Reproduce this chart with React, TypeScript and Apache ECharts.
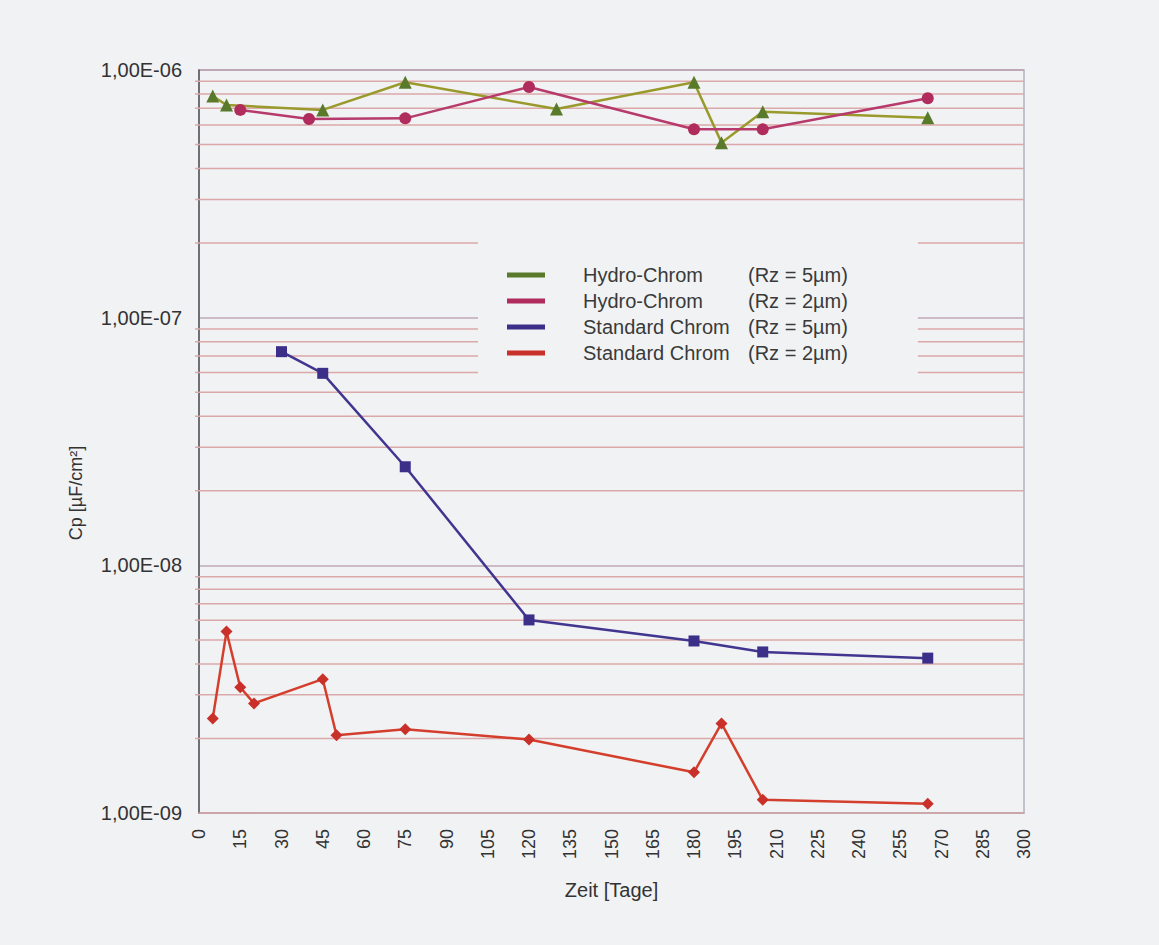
import React, { useEffect, useRef } from "react";
import * as echarts from "echarts";

// Days (Zeit [Tage]) and Cp values [µF/cm²]
const hydro5Days = [5, 10, 45, 75, 130, 180, 190, 205, 265];
const hydro5Cp = [7.85e-7, 7.22e-7, 6.9e-7, 8.92e-7, 6.96e-7, 8.92e-7, 5.09e-7, 6.79e-7, 6.42e-7];

const hydro2Days = [15, 40, 75, 120, 180, 205, 265];
const hydro2Cp = [6.9e-7, 6.34e-7, 6.38e-7, 8.54e-7, 5.76e-7, 5.76e-7, 7.69e-7];

const std5Days = [30, 45, 75, 120, 180, 205, 265];
const std5Cp = [7.29e-8, 5.96e-8, 2.5e-8, 6.02e-9, 4.95e-9, 4.47e-9, 4.22e-9];

const std2Days = [5, 10, 15, 20, 45, 50, 75, 120, 180, 190, 205, 265];
const std2Cp = [2.41e-9, 5.4e-9, 3.22e-9, 2.77e-9, 3.47e-9, 2.06e-9, 2.18e-9, 1.98e-9, 1.46e-9, 2.3e-9, 1.13e-9, 1.09e-9];

const seriesNames = [
  "Hydro-Chrom (Rz = 5µm)",
  "Hydro-Chrom (Rz = 2µm)",
  "Standard Chrom (Rz = 5µm)",
  "Standard Chrom (Rz = 2µm)",
];

const decadeStarts = [1e-9, 1e-8, 1e-7];
const minorMultipliers = [2, 3, 4, 5, 6, 7, 8, 9];
const xMin = 0;
const xMax = 300;

const BG = "#f1f2f4";
const FONT = "'Liberation Sans', Arial, sans-serif";

function pairs(xs: number[], ys: number[]) {
  return xs.map((x, i) => [x, ys[i]]);
}

export default function App() {
  const ref = useRef<HTMLDivElement>(null);
  useEffect(() => {
    if (!ref.current) return;
    const chart = echarts.init(ref.current, undefined, { renderer: "svg" });
    const minorData: number[][] = [];
    decadeStarts.forEach((d) =>
      minorMultipliers.forEach((m) => minorData.push([xMin, d * m, xMax]))
    );
    const lineSeries = (
      name: string,
      data: number[][],
      color: string,
      markerColor: string,
      symbol: string,
      symbolSize: number
    ) => ({
      name,
      type: "line",
      data,
      symbol,
      symbolSize,
      showSymbol: true,
      lineStyle: { color, width: 2.5 },
      itemStyle: { color: markerColor },
      z: 3,
    });
    chart.setOption({
      animation: false,
      backgroundColor: BG,
      textStyle: { fontFamily: FONT },
      grid: { left: 199, right: 135, top: 70, bottom: 132, show: true, borderColor: "#b4b2bc", borderWidth: 1.5, backgroundColor: "transparent" },
      legend: {
        orient: "vertical",
        left: 478,
        top: 228,
        z: 10,
        backgroundColor: BG,
        padding: [37, 70, 17, 29],
        itemWidth: 38,
        itemHeight: 5,
        itemGap: 6,
        icon: "rect",
        data: seriesNames,
        formatter: (name: string) => {
          const idx = name.indexOf(" (");
          return `{s|}{a|${name.slice(0, idx)}}{b|${name.slice(idx + 1)}}`;
        },
        textStyle: {
          fontSize: 20,
          color: "#3a3a3a",
          fontFamily: FONT,
          lineHeight: 20,
          rich: {
            s: { width: 33 },
            a: { width: 165, fontSize: 20, color: "#3a3a3a", fontFamily: FONT },
            b: { fontSize: 20, color: "#3a3a3a", fontFamily: FONT },
          },
        },
      },
      xAxis: {
        type: "value",
        min: xMin,
        max: xMax,
        interval: 15,
        name: "Zeit [Tage]",
        nameLocation: "middle",
        nameGap: 67,
        nameTextStyle: { fontSize: 20, color: "#333", fontFamily: FONT },
        axisLine: { show: true, lineStyle: { color: "#cfa3a6", width: 1.5 } },
        axisTick: { show: false },
        splitLine: { show: false },
        axisLabel: { rotate: 90, fontSize: 18, color: "#333", margin: 16, fontFamily: FONT },
      },
      yAxis: {
        type: "log",
        logBase: 10,
        min: 1e-9,
        max: 1e-6,
        axisLine: { show: true, lineStyle: { color: "#55535a", width: 1.5 } },
        axisTick: { show: false },
        splitLine: { show: true, lineStyle: { color: "#bfa7b4", width: 1.5 } },
        axisLabel: {
          fontSize: 20,
          color: "#333",
          margin: 17,
          fontFamily: FONT,
          formatter: (v: number) => {
            const e = Math.round(Math.log10(v));
            return `1,00E-${String(-e).padStart(2, "0")}`;
          },
        },
      },
      graphic: [
        {
          type: "text",
          x: 76,
          y: 493,
          rotation: Math.PI / 2,
          style: {
            text: "Cp [µF/cm²]",
            fontSize: 18,
            fill: "#333",
            fontFamily: FONT,
            align: "center",
            verticalAlign: "middle",
          },
        },
      ],
      series: [
        {
          type: "custom",
          name: "minorGrid",
          silent: true,
          z: 1,
          data: minorData,
          encode: { x: [0, 2], y: 1 },
          renderItem: (params: any, api: any) => {
            const p1 = api.coord([api.value(0), api.value(1)]);
            const p2 = api.coord([api.value(2), api.value(1)]);
            return {
              type: "line",
              shape: { x1: p1[0] - 4, y1: p1[1], x2: p2[0], y2: p2[1] },
              style: { stroke: "#dba9aa", lineWidth: 1.5 },
            };
          },
        },
        lineSeries(seriesNames[0], pairs(hydro5Days, hydro5Cp), "#9a9a2c", "#587a2a", "triangle", 13),
        lineSeries(seriesNames[1], pairs(hydro2Days, hydro2Cp), "#b73a6c", "#b02c5c", "circle", 12),
        lineSeries(seriesNames[2], pairs(std5Days, std5Cp), "#40368f", "#3b2f8a", "rect", 11),
        lineSeries(seriesNames[3], pairs(std2Days, std2Cp), "#d33f2c", "#c9302a", "diamond", 12),
      ],
    });
    return () => chart.dispose();
  }, []);
  return (
    <div
      ref={ref}
      style={{ position: "fixed", left: 0, top: 0, width: 1159, height: 945 }}
    />
  );
}
